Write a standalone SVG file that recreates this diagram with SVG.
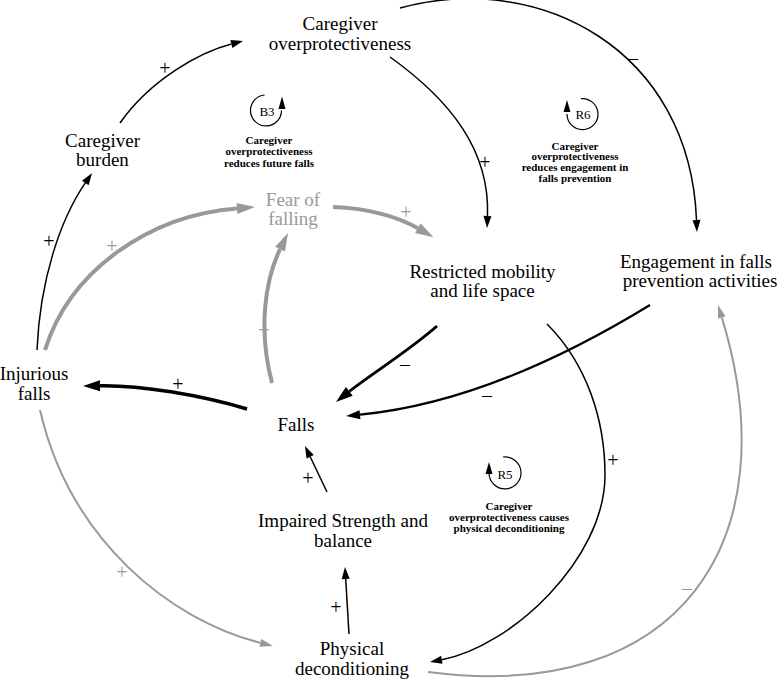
<svg xmlns="http://www.w3.org/2000/svg" width="777" height="686" viewBox="0 0 777 686">
<defs>
<marker id="mb" markerUnits="userSpaceOnUse" markerWidth="12" markerHeight="8" refX="0" refY="4" orient="auto" overflow="visible"><path d="M0,0 L12,4 L0,8 z" fill="#000"/></marker>
<marker id="mbm" markerUnits="userSpaceOnUse" markerWidth="14" markerHeight="9" refX="0" refY="4.5" orient="auto" overflow="visible"><path d="M0,0 L14,4.5 L0,9 z" fill="#000"/></marker>
<marker id="mbt" markerUnits="userSpaceOnUse" markerWidth="17" markerHeight="11" refX="0" refY="5.5" orient="auto" overflow="visible"><path d="M0,0 L17,5.5 L0,11 z" fill="#000"/></marker>
<marker id="mg" markerUnits="userSpaceOnUse" markerWidth="13" markerHeight="8" refX="0" refY="4" orient="auto" overflow="visible"><path d="M0,0 L13,4 L0,8 z" fill="#999"/></marker>
<marker id="mgt" markerUnits="userSpaceOnUse" markerWidth="18" markerHeight="11" refX="0" refY="5.5" orient="auto" overflow="visible"><path d="M0,0 L18,5.5 L0,11 z" fill="#999"/></marker>
</defs>
<style>
.node{font-family:"Liberation Serif","Times New Roman",serif;font-size:19px;text-anchor:middle;fill:#000}
.gt{fill:#999}
.cap{font-family:"Liberation Serif","Times New Roman",serif;font-size:11px;font-weight:bold;text-anchor:middle;fill:#000}
.loop{font-family:"Liberation Serif","Times New Roman",serif;font-size:13px;text-anchor:middle;fill:#000}
.sign{font-family:"Liberation Serif","Times New Roman",serif;font-size:20px;text-anchor:middle;fill:#000}
.sg{fill:#999}
.lk{fill:none;stroke:#000}
.lg{fill:none;stroke:#999}
.ring{fill:none;stroke:#000;stroke-width:1.2}
</style>
<rect width="777" height="686" fill="#fff"/>

<g id="connectors">
<path class="lk" stroke-width="1.5" d="M120,123 C150,80 200,52 231.4,44" marker-end="url(#mb)"/>
<path class="lk" stroke-width="1.5" d="M400,8 C540,-30 690,50 696.5,220" marker-end="url(#mb)"/>
<path class="lk" stroke-width="1.5" d="M390,57 C450,100 490,150 487.5,216" marker-end="url(#mb)"/>
<path class="lk" stroke-width="1.5" d="M547,324 C587,364 605,420 605,475 C605,560 510,647 441.8,659.8" marker-end="url(#mb)"/>
<path class="lk" stroke-width="2.2" d="M650,305 C560,360 460,405 360,414.7" marker-end="url(#mbm)"/>
<path class="lk" stroke-width="3" d="M437,326 C410,350 370,375 349.3,391.4" marker-end="url(#mbt)"/>
<path class="lk" stroke-width="3.5" d="M247,409 C200,395 140,385 100,385.7" marker-end="url(#mbt)"/>
<path class="lk" stroke-width="1.5" d="M37,350 C40,280 60,220 85.3,182.9" marker-end="url(#mb)"/>
<path class="lg" stroke-width="4" d="M45,350 C70,270 150,215 237,208.4" marker-end="url(#mgt)"/>
<path class="lg" stroke-width="4" d="M333,207 C370,208 400,218 417.9,228.3" marker-end="url(#mgt)"/>
<path class="lg" stroke-width="4" d="M272,383 C258,330 265,280 280.1,249.2" marker-end="url(#mgt)"/>
<path class="lg" stroke-width="2" d="M40,410 C70,540 170,620 260.4,642.8" marker-end="url(#mg)"/>
<path class="lg" stroke-width="2" d="M428,672 C680,705 790,540 721.8,317.4" marker-end="url(#mg)"/>
<path class="lk" stroke-width="1.5" d="M349,634 L345.7,579" marker-end="url(#mb)"/>
<path class="lk" stroke-width="1.5" d="M327,492 L310.2,456.8" marker-end="url(#mb)"/>

<text class="sign" x="165" y="75">+</text>
<text class="sign" x="633" y="65">–</text>
<text class="sign" x="485" y="169">+</text>
<text class="sign" x="613" y="467">+</text>
<text class="sign" x="405" y="371">–</text>
<text class="sign" x="487" y="402">–</text>
<text class="sign" x="178" y="391">+</text>
<text class="sign" x="49" y="248">+</text>
<text class="sign sg" x="112" y="253">+</text>
<text class="sign sg" x="406" y="219">+</text>
<text class="sign sg" x="264" y="337">+</text>
<text class="sign sg" x="122" y="579">+</text>
<text class="sign sg" x="687" y="595">–</text>
<text class="sign" x="336" y="614">+</text>
<text class="sign" x="308" y="485">+</text>
</g>

<g id="caregiver-overprotectiveness"><text class="node" x="340" y="30">Caregiver</text><text class="node" x="340" y="50">overprotectiveness</text></g>
<g id="caregiver-burden"><text class="node" x="102.5" y="147">Caregiver</text><text class="node" x="102.5" y="166">burden</text></g>
<g id="fear-of-falling"><text class="node gt" x="293" y="206">Fear of</text><text class="node gt" x="293" y="225">falling</text></g>
<g id="restricted-mobility"><text class="node" x="482.5" y="278">Restricted mobility</text><text class="node" x="482.5" y="297">and life space</text></g>
<g id="engagement"><text class="node" x="696" y="268">Engagement in falls</text><text class="node" x="700" y="287">prevention activities</text></g>
<g id="injurious-falls"><text class="node" x="34" y="380">Injurious</text><text class="node" x="34" y="400">falls</text></g>
<g id="falls"><text class="node" x="296" y="431">Falls</text></g>
<g id="impaired-strength"><text class="node" x="343" y="527">Impaired Strength and</text><text class="node" x="343" y="547">balance</text></g>
<g id="physical-deconditioning"><text class="node" x="352" y="655">Physical</text><text class="node" x="352" y="675">deconditioning</text></g>

<g id="loop-B3">
<path class="ring" d="M264.6,95 A15.5,15.5 0 1 0 281.5,110.5"/>
<polygon points="282,96.5 278.5,109 285.5,109" fill="#000"/>
<text class="loop" x="267" y="116">B3</text>
<text class="cap" x="269" y="143.5">Caregiver</text>
<text class="cap" x="269" y="155">overprotectiveness</text>
<text class="cap" x="269" y="166.5">reduces future falls</text>
</g>
<g id="loop-R6">
<path class="ring" d="M581,98.7 A15.5,15.5 0 1 1 567,114"/>
<polygon points="567,100 563.5,112 570.5,112" fill="#000"/>
<text class="loop" x="583" y="119">R6</text>
<text class="cap" x="575" y="149.5">Caregiver</text>
<text class="cap" x="575" y="160">overprotectiveness</text>
<text class="cap" x="575" y="171">reduces engagement in</text>
<text class="cap" x="575" y="181.5">falls prevention</text>
</g>
<g id="loop-R5">
<path class="ring" d="M503,457 A16,16 0 1 1 489,473"/>
<polygon points="489,462 485.5,474 492.5,474" fill="#000"/>
<text class="loop" x="505" y="479">R5</text>
<text class="cap" x="509" y="510">Caregiver</text>
<text class="cap" x="509" y="521">overprotectiveness causes</text>
<text class="cap" x="509" y="531.5">physical deconditioning</text>
</g>
</svg>
